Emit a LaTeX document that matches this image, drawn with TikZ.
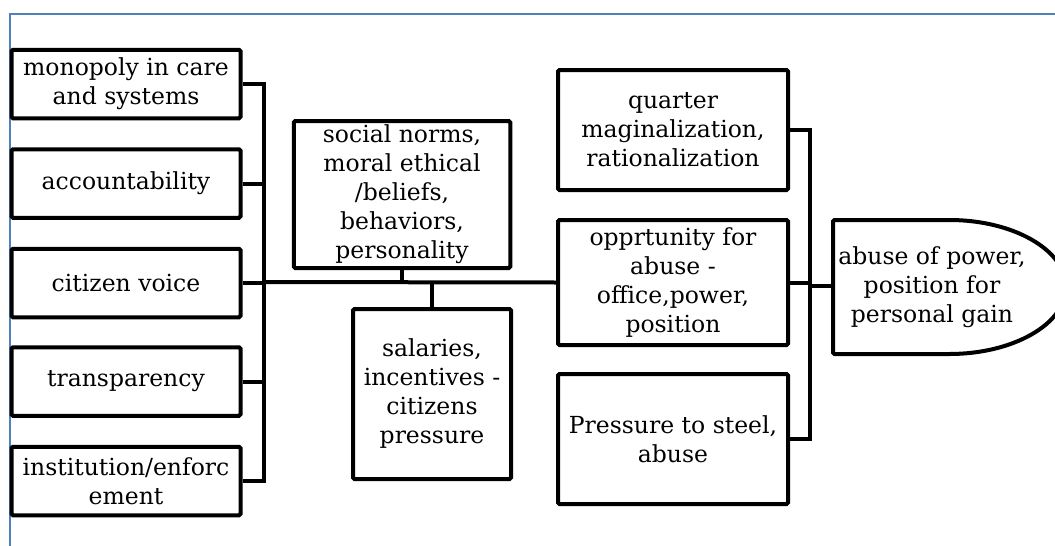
\documentclass[tikz,border=0pt]{standalone}
\usepackage{fontspec}
\setmainfont{DejaVu Serif}
\usepackage{tikz}
\usetikzlibrary{positioning}
\usetikzlibrary{calc}
\definecolor{frameblue}{RGB}{79,129,189}
\tikzstyle{cause}=[
        rectangle,
        draw,
        line width=4pt,
        rounded corners=1.5pt,
        fill=white,
        align=center,
        inner sep=0pt,
        minimum width=229pt,
        minimum height=68.5pt,
        font=\fontsize{23.5}{29}\selectfont
]
\tikzstyle{factor}=[rectangle,draw,line width=4pt,rounded corners=1.5pt,fill=white,align=center,inner sep=0pt,minimum width=230pt,font=\fontsize{23.5}{29}\selectfont]
\tikzstyle{trait}=[rectangle,draw,line width=4pt,rounded corners=1.5pt,fill=white,align=center,inner sep=0pt,font=\fontsize{23.5}{29}\selectfont]
\tikzstyle{result}=[align=center,inner sep=0pt,font=\fontsize{23.5}{29}\selectfont]
\tikzstyle{outcome}=[draw,line width=4pt,rounded corners=1.5pt,fill=white]
\tikzstyle{lien}=[line width=4pt]
\tikzstyle{cadre}=[draw=frameblue,line width=1.5pt]

\begin{document}
\begin{tikzpicture}[x=1pt,y=-1pt]
\useasboundingbox (0,0) rectangle (1055,546);
\draw[cadre] (10,546) -- (10,14) -- (1055,14);
\node[cause] (mono) at (126,84) {monopoly in care\\and systems};
\node[cause] (acc) at (126,183.5) {accountability};
\node[cause] (voice) at (126,283) {citizen voice};
\node[cause] (transp) at (126,381.5) {transparency};
\node[cause] (inst) at (126,481) {institution/enforc\\ement};
\node[trait,minimum width=216.5pt,minimum height=147pt] (social) at (402,194.5) {social norms,\\moral ethical\\/beliefs,\\behaviors,\\personality};
\node[trait,minimum width=158pt,minimum height=170pt] (sal) at (432,394) {salaries,\\incentives -\\citizens\\pressure};
\node[factor,minimum height=120pt] (quart) at (673,130) {quarter\\maginalization,\\rationalization};
\node[factor,minimum height=125pt] (opp) at (673,282.5) {opprtunity for\\abuse -\\office,power,\\position};
\node[factor,minimum height=130pt] (press) at (673,439) {Pressure to steel,\\abuse};
\draw[outcome] (833,220) -- (948,220) arc[start angle=-90,end angle=90,x radius=118,y radius=67] -- (833,354) -- cycle;
\node[result] (abuse) at (932,287) {abuse of power,\\position for\\personal gain};
\coordinate (lbus) at (264,282);
\coordinate (rbus) at (810,286);
\coordinate (abusein) at (833,286);
%liaisons
\draw[lien] (mono.east) -| (lbus) |- (inst.east);
\draw[lien] (acc.east) -- (acc.east -| lbus);
\draw[lien] (voice.east) -- (voice.east -| lbus);
\draw[lien] (transp.east) -- (transp.east -| lbus);
\draw[lien] (lbus) -- (opp.west);
\draw[lien] (social.south) -- (social.south |- lbus);
\draw[lien] (sal.north) -- (sal.north |- lbus);
\draw[lien] (quart.east) -| (rbus) |- (press.east);
\draw[lien] (opp.east) -- (opp.east -| rbus);
\draw[lien] (rbus) -- (abusein);
\end{tikzpicture}
\end{document}
